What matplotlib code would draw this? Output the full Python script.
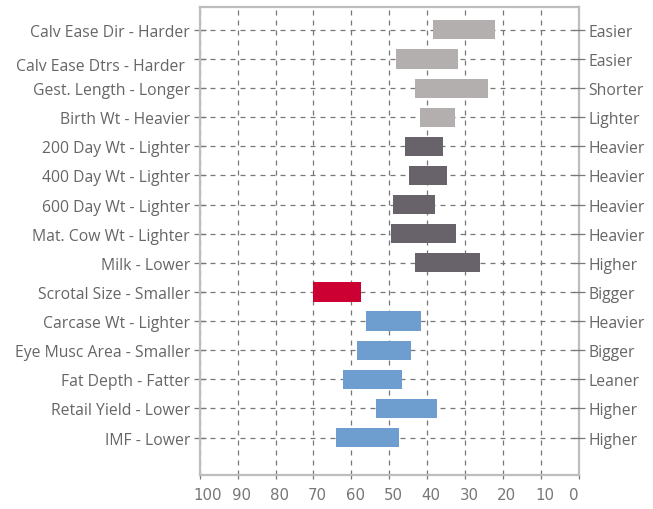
import matplotlib
matplotlib.use('Agg')
import matplotlib.pyplot as plt
import matplotlib.transforms as mtransforms
import numpy as np

# Data
left_labels = ['Calv Ease Dir - Harder', 'Calv Ease Dtrs - Harder', 'Gest. Length - Longer',
               'Birth Wt - Heavier', '200 Day Wt - Lighter', '400 Day Wt - Lighter',
               '600 Day Wt - Lighter', 'Mat. Cow Wt - Lighter', 'Milk - Lower',
               'Scrotal Size - Smaller', 'Carcase Wt - Lighter', 'Eye Musc Area - Smaller',
               'Fat Depth - Fatter', 'Retail Yield - Lower', 'IMF - Lower']
right_labels = ['Easier', 'Easier', 'Shorter', 'Lighter', 'Heavier', 'Heavier', 'Heavier',
                'Heavier', 'Higher', 'Bigger', 'Heavier', 'Bigger', 'Leaner', 'Higher', 'Higher']
bar_start = [38.4, 48.2, 43.2, 41.8, 45.8, 44.7, 49.0, 49.5, 43.2, 70.0, 56.1, 58.5, 62.2, 53.5, 64.0]
bar_end = [22.1, 31.8, 23.9, 32.6, 35.8, 34.7, 37.9, 32.4, 26.0, 57.4, 41.6, 44.2, 46.6, 37.4, 47.4]
groups = ['calving'] * 4 + ['growth'] * 5 + ['fertility'] + ['carcase'] * 5
x_ticks = [100, 90, 80, 70, 60, 50, 40, 30, 20, 10, 0]

group_colors = {'calving': '#b3afae', 'growth': '#68636a',
                'fertility': '#cc0033', 'carcase': '#6e9ecf'}
TEXT = '#666666'
GRID = '#777777'
SPINE = '#bdbdbd'

plt.rcParams['font.family'] = ['Open Sans', 'DejaVu Sans']

fig = plt.figure(figsize=(6.53, 5.10), dpi=100)
ax = fig.add_axes([0.306, 0.067, 0.580, 0.917])

y = np.arange(len(left_labels))
lo = np.minimum(bar_start, bar_end)
width = np.abs(np.array(bar_start) - np.array(bar_end))
ax.barh(y, width, left=lo, height=0.66,
        color=[group_colors[g] for g in groups], zorder=3)

ax.set_xlim(100, 0)
ax.set_ylim(15.28, -0.78)
ax.set_xticks(x_ticks)
ax.set_xticklabels([str(v) for v in x_ticks], family='DejaVu Sans', fontsize=10.8, color='#777777')
ax.set_yticks(y)
ax.set_yticklabels(left_labels, fontsize=11.3, color=TEXT)

ax.grid(True, color=GRID, linestyle=(0, (4, 4)), linewidth=0.9, zorder=0)
ax.tick_params(axis='y', direction='inout', length=8, color=GRID, width=0.9, pad=3)
ax.tick_params(axis='x', direction='out', length=3, color=GRID, width=0.9, pad=6)
for s in ax.spines.values():
    s.set_color(SPINE)
    s.set_linewidth(1.6)

# nudge the odd label and the x tick labels like the original
lbl = ax.get_yticklabels()[1]
lbl.set_transform(lbl.get_transform() + mtransforms.ScaledTranslation(-5/100, -5/100, fig.dpi_scale_trans))
for t, v in zip(ax.get_xticklabels(), x_ticks):
    dx = 8 if v == 100 else (-5 if v == 0 else 4)
    t.set_transform(t.get_transform() + mtransforms.ScaledTranslation(dx/100, 0, fig.dpi_scale_trans))

ax2 = ax.twinx()
ax2.set_ylim(ax.get_ylim())
ax2.set_yticks(y)
ax2.set_yticklabels(right_labels, fontsize=11.3, color=TEXT)
ax2.tick_params(axis='y', direction='inout', length=8, color=GRID, width=0.9, pad=3)
for s in ax2.spines.values():
    s.set_visible(False)

fig.savefig('out.png', dpi=100)
